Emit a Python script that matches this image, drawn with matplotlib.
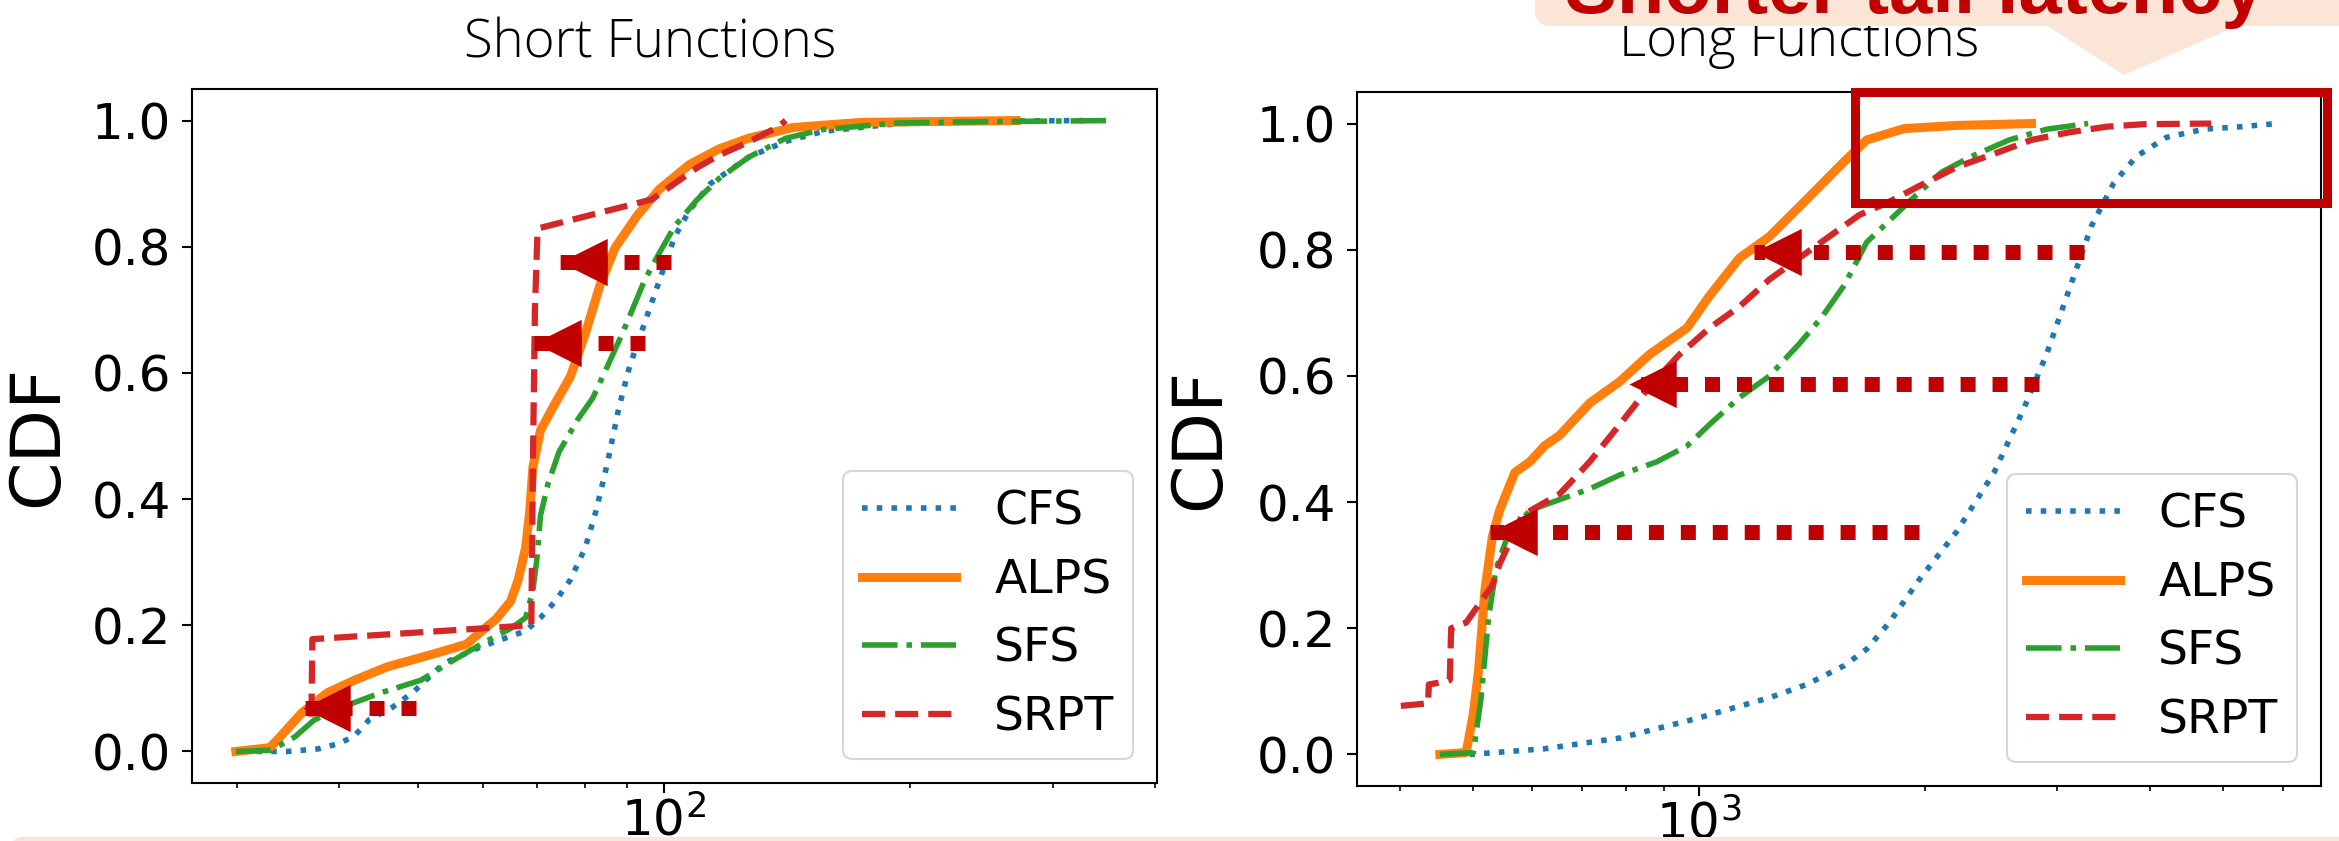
import matplotlib.pyplot as plt
from matplotlib.patches import Rectangle, Polygon, FancyBboxPatch
from matplotlib.ticker import NullFormatter
from matplotlib.transforms import IdentityTransform

# ---- data: latency (log x) vs CDF ----
short_cfs_x = [30.4, 34.6, 37.7, 40.1, 41.8, 43.6, 46.5, 49.4, 53.8, 59.7, 67.7, 70.6, 73.6, 76.8,
               80.1, 82.6, 85.3, 88.0, 90.8, 93.7, 96.7, 99.8, 103, 107.4, 114, 127, 141, 157, 193, 238, 326]
short_cfs_y = [0, 0, 0.004, 0.013, 0.025, 0.051, 0.07, 0.095, 0.14, 0.166, 0.191, 0.212, 0.238, 0.272,
               0.323, 0.382, 0.458, 0.543, 0.611, 0.662, 0.713, 0.764, 0.815, 0.857, 0.900, 0.942, 0.967,
               0.983, 0.995, 0.999, 1.0]
short_alps_x = [29.9, 32.9, 33.7, 36.0, 38.7, 41.8, 45.8, 52.7, 57.3, 59.7, 62.3, 64.9, 66.3, 67.7, 68.5,
                69.1, 70.6, 73.6, 76.8, 80.1, 83.5, 87.1, 92.7, 98.7, 107.4, 116.8, 127, 144, 174, 270]
short_alps_y = [0, 0.006, 0.02, 0.061, 0.093, 0.113, 0.134, 0.156, 0.170, 0.19, 0.21, 0.238, 0.272, 0.323,
                0.382, 0.450, 0.509, 0.552, 0.594, 0.662, 0.739, 0.798, 0.849, 0.891, 0.930, 0.955, 0.972,
                0.989, 0.997, 1.0]
short_sfs_x = [29.9, 33.0, 35.3, 37.3, 40.3, 45.0, 50.4, 54.8, 59.7, 64.9, 67.7, 69.1, 69.9, 70.6, 72.1,
               74.4, 78.4, 81.8, 85.3, 88.9, 91.8, 94.7, 98.7, 103, 109.7, 116.8, 127, 141, 157, 193, 238, 355]
short_sfs_y = [0, 0.002, 0.023, 0.05, 0.07, 0.093, 0.113, 0.142, 0.170, 0.195, 0.212, 0.255, 0.306, 0.374,
               0.424, 0.475, 0.526, 0.560, 0.611, 0.662, 0.705, 0.747, 0.790, 0.832, 0.874, 0.908, 0.942,
               0.972, 0.986, 0.996, 0.998, 1.0]
short_srpt_x = [37.0, 37.1, 68.8, 69.1, 69.5, 70.0, 70.6, 96.7, 103, 109.7, 116.8, 127, 138, 141]
short_srpt_y = [0.055, 0.178, 0.200, 0.45, 0.70, 0.823, 0.830, 0.875, 0.90, 0.925, 0.945, 0.966, 0.99, 1.0]

long_cfs_x = [495, 623, 785, 987, 1243, 1394, 1564, 1675, 1795, 1968, 2207, 2476, 2714, 2908, 3115,
              3339, 3576, 3832, 4200, 4711, 5286, 5902]
long_cfs_y = [0.0, 0.009, 0.026, 0.056, 0.09, 0.111, 0.141, 0.167, 0.209, 0.277, 0.353, 0.447, 0.549,
              0.634, 0.736, 0.838, 0.906, 0.948, 0.978, 0.991, 0.995, 1.0]
long_alps_x = [452, 490, 501, 509, 519, 531, 543, 569, 596, 623, 653, 716, 785, 860, 965, 1034, 1134,
               1243, 1394, 1564, 1675, 1879, 2207, 2777]
long_alps_y = [0.0, 0.003, 0.065, 0.133, 0.26, 0.345, 0.387, 0.447, 0.464, 0.489, 0.506, 0.557, 0.591,
               0.634, 0.676, 0.727, 0.787, 0.821, 0.880, 0.940, 0.974, 0.992, 0.997, 1.0]
long_sfs_x = [452, 501, 513, 525, 537, 556, 596, 653, 716, 785, 880, 965, 1034, 1134, 1243, 1362, 1459,
              1564, 1675, 1795, 1923, 2108, 2311, 2593, 2908, 3304]
long_sfs_y = [0.0, 0.003, 0.09, 0.2175, 0.294, 0.345, 0.387, 0.404, 0.421, 0.443, 0.464, 0.489, 0.523,
              0.566, 0.600, 0.651, 0.693, 0.744, 0.812, 0.846, 0.880, 0.923, 0.948, 0.974, 0.991, 1.0]
long_srpt_x = [401, 436, 437, 457, 466, 468, 490, 507, 531, 543, 582, 653, 716, 785, 860, 943, 1034,
               1134, 1243, 1362, 1493, 1637, 1795, 1968, 2207, 2476, 2777, 3115, 3495, 3920, 4820]
long_srpt_y = [0.077, 0.081, 0.111, 0.115, 0.118, 0.2, 0.209, 0.234, 0.268, 0.302, 0.379, 0.413, 0.464,
               0.523, 0.583, 0.634, 0.676, 0.710, 0.753, 0.787, 0.821, 0.855, 0.876, 0.901, 0.931, 0.952,
               0.974, 0.986, 0.995, 0.999, 1.0]

labels = ['CFS', 'ALPS', 'SFS', 'SRPT']
titles = ['Short Functions', 'Long Functions']

# red "improvement" arrows: (y, tip x, tail x)
short_arrows = [(0.776, 74.5, 102), (0.647, 69.4, 94.8), (0.069, 36.1, 49.7)]
long_arrows = [(0.797, 1187, 3263), (0.587, 807, 2842), (0.353, 528, 1967)]

W, H = 2339, 841
DARK_RED = '#C00000'
PEACH = '#FBE5D6'
styles = {
    'CFS': dict(color='#1f77b4', ls=':', lw=4),
    'ALPS': dict(color='#ff7f0e', ls='-', lw=6.5),
    'SFS': dict(color='#2ca02c', ls='-.', lw=4),
    'SRPT': dict(color='#d62728', ls='--', lw=4.5),
}

fig = plt.figure(figsize=(W / 100, H / 100), dpi=100)
ax1 = fig.add_axes([192 / W, 1 - 783 / H, (1157 - 192) / W, (783 - 89) / H])
ax2 = fig.add_axes([1357 / W, 1 - 786 / H, (2321 - 1357) / W, (786 - 92) / H])

panels = [
    (ax1, [(short_cfs_x, short_cfs_y), (short_alps_x, short_alps_y),
           (short_sfs_x, short_sfs_y), (short_srpt_x, short_srpt_y)], short_arrows),
    (ax2, [(long_cfs_x, long_cfs_y), (long_alps_x, long_alps_y),
           (long_sfs_x, long_sfs_y), (long_srpt_x, long_srpt_y)], long_arrows),
]

head = [(0, 0), (1, 0.5), (1, -0.5), (0, 0)]  # left-pointing triangle, tip at the origin

for ax, series, arrows in panels:
    ax.set_xscale('log')
    for (x, y), lab in zip(series, labels):
        ax.plot(x, y, label=lab, **styles[lab])
    ax.set_xlim(ax.get_xlim())
    ax.set_ylim(-0.05, 1.05)
    ax.set_yticks([0, 0.2, 0.4, 0.6, 0.8, 1.0])
    ax.xaxis.set_minor_formatter(NullFormatter())
    ax.tick_params(which='major', labelsize=36, length=7, width=1.5)
    ax.tick_params(axis='y', pad=8)
    ax.tick_params(axis='x', pad=3)
    ax.tick_params(which='minor', length=3.5, width=1.2)
    for s in ax.spines.values():
        s.set_linewidth(1.5)
    ax.set_ylabel('CDF', fontsize=50)
    leg = ax.legend(loc='lower right', fontsize=34)
    leg.get_frame().set_linewidth(1.5)

    for y, tip, tail in arrows:
        ax.plot([tail, tip], [y, y], color=DARK_RED, lw=10.8, linestyle=(0, (1, 1.13)),
                dash_capstyle='butt', zorder=5)
        ax.plot([tip], [y], marker=head, markersize=68, color=DARK_RED,
                markeredgewidth=0, linestyle='none', zorder=6)

ax1.yaxis.set_label_coords(-0.125, 0.5)
ax2.yaxis.set_label_coords(-0.129, 0.5)

# panel titles (slide text)
fig.text(650 / W, 1 - 57 / H, titles[0], ha='center', va='baseline', fontsize=38,
         family='Open Sans', fontweight='light', zorder=1)
fig.text(1799 / W, 1 - 56 / H, titles[1], ha='center', va='baseline', fontsize=38,
         family='Open Sans', fontweight='light', zorder=1)

# callout at the top
px = IdentityTransform()
fig.patches.append(FancyBboxPatch((1535, H - 26), 900, 100, boxstyle='round,pad=0,rounding_size=16',
                                  transform=px, facecolor=PEACH, edgecolor='none', zorder=2))
fig.patches.append(Polygon([(2038, H - 20), (2124, H - 75), (2251, H - 20)], closed=True,
                           transform=px, facecolor=PEACH, edgecolor='none', zorder=2))
fig.text(1915 / W, 1 - 13 / H, 'Shorter tail latency', ha='center', va='baseline', fontsize=56,
         family='Liberation Sans', fontweight='bold', color=DARK_RED, zorder=3)

# highlight box around the tail in the right panel
fig.patches.append(Rectangle((1855, H - 203), 2327 - 1855, 203 - 92, transform=px, fill=False,
                             edgecolor=DARK_RED, lw=6.5, zorder=5))

# band along the bottom edge
fig.patches.append(FancyBboxPatch((12, -30), 2400, H - 837 + 30, boxstyle='round,pad=0,rounding_size=10',
                                  transform=px, facecolor=PEACH, edgecolor='none', zorder=2))

fig.savefig('out.png', dpi=100)
